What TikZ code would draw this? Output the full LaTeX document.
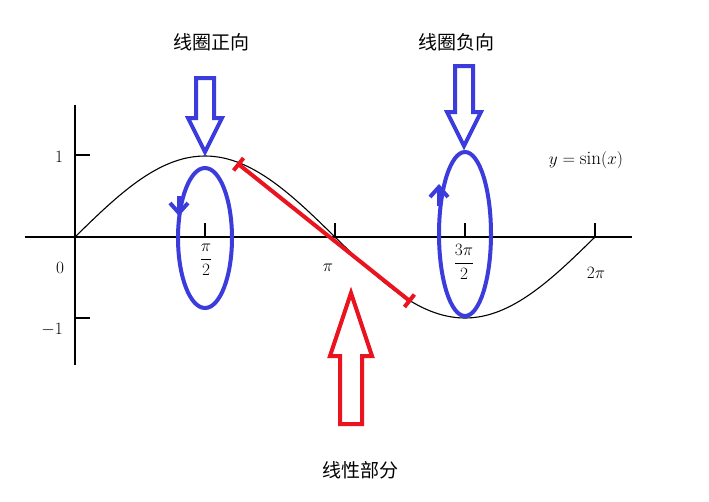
\documentclass[tikz,border=0pt]{standalone}
\usepackage{fontspec}
\newfontfamily\cjk{Noto Sans CJK SC}
\usetikzlibrary{arrows.meta}
\begin{document}
\begin{tikzpicture}[x=1pt,y=-1pt,
  lbl/.style={font=\fontsize{19}{19}\selectfont},
  cn/.style={font=\cjk\fontsize{19}{19}\selectfont},
  bluel/.style={draw={rgb,255:red,60;green,60;blue,220},line width=4pt},
  redl/.style={draw={rgb,255:red,235;green,20;blue,30},line width=4pt}]
\useasboundingbox (0,0) rectangle (709,501);
\fill[white] (0,0) rectangle (709,501);
% axes
\coordinate (xa) at (25,237); \coordinate (xb) at (632,237);
\coordinate (ya) at (75,105); \coordinate (yb) at (75,365);
\draw[line width=1.3pt] (xa) -- (xb);
\draw[line width=1.3pt] (ya) -- (yb);
\draw[line width=1.3pt] (75,155) -- (90,155);
\draw[line width=1.3pt] (75,318) -- (90,318);
\foreach \t in {205,335,465,595} \draw[line width=1.3pt] (\t,237) -- (\t,223);
\draw[line width=1.1pt,domain=0:6.2832,samples=120,smooth] plot ({75+\x*82.76},{237-81*sin(\x r)});
\node[lbl] (one) at (59,157) {$1$};
\node[lbl] (mone) at (52,330) {$-1$};
\node[lbl] (zero) at (60,268) {$0$};
\node[lbl] (pih) at (206,260) {$\displaystyle\frac{\pi}{2}$};
\node[lbl] (pi) at (328,268) {$\pi$};
\node[lbl] (tpih) at (464,262) {$\displaystyle\frac{3\pi}{2}$};
\node[lbl] (tpi) at (596,273) {$2\pi$};
\node[lbl] (eq) at (586,160) {$y=\sin(x)$};
% blue
\draw[bluel] (205,238) ellipse [x radius=27, y radius=70];
\draw[bluel] (465,234) ellipse [x radius=26, y radius=82];
\draw[bluel,-{Straight Barb[length=10pt,width=18pt]}] (179,196) -- (179,216);
\draw[bluel,-{Straight Barb[length=10pt,width=18pt]}] (439,206) -- (439,184);
\draw[bluel,line join=miter] (196,78) -- (214,78) -- (214,118) -- (222,118) -- (205,152) -- (188,118) -- (196,118) -- cycle;
\draw[bluel,line join=miter] (455,66) -- (473,66) -- (473,112) -- (481,112) -- (464,146) -- (447,112) -- (455,112) -- cycle;
% red
\coordinate (ra) at (237,163); \coordinate (rb) at (411,302);
\draw[redl,{Bar[width=16pt]}-{Bar[width=16pt]}] (ra) -- (rb);
\draw[redl,line join=miter] (340,424) -- (362,424) -- (362,356) -- (372,356) -- (351,293) -- (330,356) -- (340,356) -- cycle;
% texts
\node[cn] (t1) at (211,42) {线圈正向};
\node[cn] (t2) at (456,42) {线圈负向};
\node[cn] (t3) at (360,470) {线性部分};
\end{tikzpicture}
\end{document}
